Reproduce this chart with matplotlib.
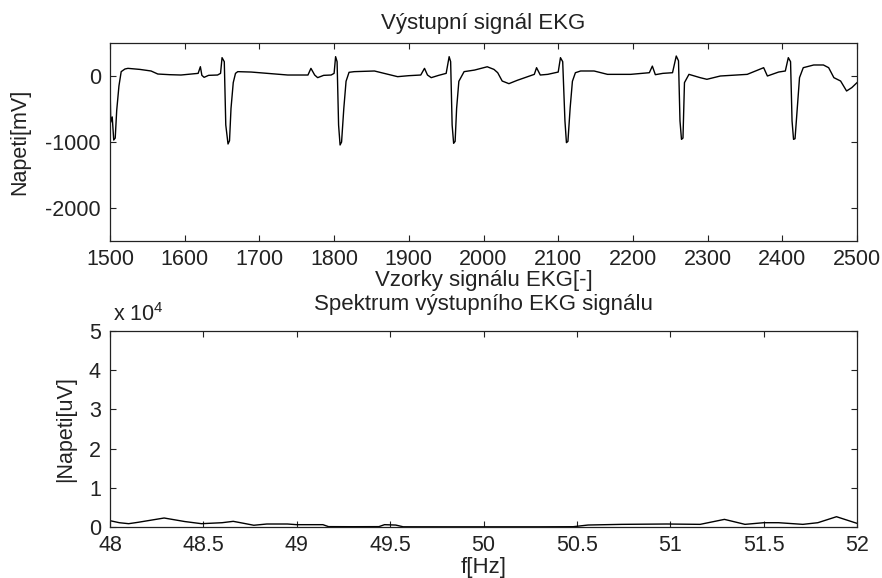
import matplotlib
matplotlib.use("Agg")
import matplotlib.pyplot as plt
from matplotlib.ticker import FuncFormatter


# EKG trace (sample index, mV)
ekg_samples = [
    1500, 1501, 1503, 1505, 1507, 1509, 1512, 1515, 1520, 1524, 1540, 1555,
    1564, 1580, 1595, 1618, 1621, 1623, 1626, 1632, 1644, 1648, 1650, 1653,
    1655, 1658, 1660, 1662, 1665, 1668, 1671, 1689, 1711, 1738, 1765, 1769,
    1774, 1778, 1786, 1796, 1800, 1802, 1804, 1806, 1808, 1810, 1813, 1816,
    1820, 1827, 1854, 1867, 1885, 1900, 1916, 1921, 1925, 1930, 1940, 1950,
    1954, 1956, 1958, 1960, 1962, 1964, 1967, 1974, 1988, 2005, 2014, 2019,
    2025, 2034, 2045, 2068, 2071, 2076, 2086, 2100, 2103, 2106, 2109, 2111,
    2113, 2116, 2119, 2123, 2130, 2148, 2166, 2197, 2222, 2226, 2230, 2240,
    2253, 2258, 2261, 2263, 2265, 2267, 2269, 2275, 2290, 2299, 2317, 2353,
    2375, 2380, 2395, 2404, 2408, 2411, 2413, 2415, 2417, 2420, 2423, 2428,
    2442, 2455, 2462, 2469, 2478, 2486, 2493, 2500,
]
ekg_mv = [
    -100, -700, -620, -970, -940, -520, -150, 66, 106, 116, 100, 76,
    30, 20, 15, 40, 141, 10, -20, 10, 15, 40, 278, 217,
    -742, -1030, -980, -490, -100, 40, 66, 60, 40, 15, 15, 116,
    15, -25, 10, 15, 40, 293, 217, -742, -1045, -1000, -490, -80,
    56, 66, 76, 40, -10, 5, 15, 116, 15, -25, 10, 40,
    293, 217, -742, -1020, -990, -490, -80, 66, 90, 140, 100, 50,
    -76, -116, -66, 25, 126, 15, 25, 60, 278, 217, -680, -1010,
    -990, -480, -80, 50, 76, 76, 25, 25, 50, 150, 20, 40,
    50, 303, 230, -680, -960, -940, -100, 25, -25, -50, 0, 25,
    126, 0, 60, 76, 278, 217, -680, -960, -950, -480, -25, 126,
    167, 167, 126, -25, -76, -227, -176, -100,
]

# spectrum magnitude around 50 Hz (Hz, uV)
spec_freq = [
    48.0, 48.05, 48.1, 48.15, 48.29, 48.4, 48.49, 48.6, 48.66, 48.71,
    48.77, 48.84, 48.95, 49.0, 49.14, 49.17, 49.3, 49.44, 49.47, 49.53,
    49.57, 49.8, 50.0, 50.3, 50.48, 50.56, 50.74, 50.98, 51.16, 51.29,
    51.4, 51.5, 51.58, 51.71, 51.79, 51.89, 52.0,
]
spec_uv = [
    1620, 1100, 850, 1200, 2300, 1400, 850, 1100, 1450, 1000,
    450, 770, 770, 600, 600, 100, 80, 100, 600, 500,
    60, 50, 50, 50, 80, 510, 680, 770, 680, 1950,
    680, 1100, 1100, 680, 1100, 2630, 935,
]

top_xticks = list(range(1500, 2501, 100))
top_yticks = [-2000, -1000, 0]
bot_xticks = [48, 48.5, 49, 49.5, 50, 50.5, 51, 51.5, 52]
bot_yticks = [0, 10000, 20000, 30000, 40000, 50000]

plt.rcParams['font.family'] = ['Liberation Sans', 'DejaVu Sans']
plt.rcParams['font.size'] = 15.5
plt.rcParams['axes.unicode_minus'] = False
plt.rcParams['mathtext.fontset'] = 'custom'
plt.rcParams['mathtext.rm'] = 'Liberation Sans'
plt.rcParams['mathtext.it'] = 'Liberation Sans'

ink = '#222222'

fig = plt.figure(figsize=(8.82, 5.78), dpi=100)
ax1 = fig.add_axes([0.1247, 0.583, 0.847, 0.3426])
ax2 = fig.add_axes([0.1247, 0.0882, 0.847, 0.339])

for ax in (ax1, ax2):
    ax.tick_params(direction='in', length=4.5, width=0.8, top=True, right=True,
                   colors=ink, labelcolor=ink)
    ax.tick_params(axis='x', pad=5.5)
    ax.tick_params(axis='y', pad=6.5)
    for sp in ax.spines.values():
        sp.set_linewidth(0.9)
        sp.set_color(ink)

ax1.plot(ekg_samples, ekg_mv, color='black', lw=1.0)
ax1.set_xlim(1500, 2500)
ax1.set_ylim(-2500, 500)
ax1.set_xticks(top_xticks)
ax1.set_yticks(top_yticks)
ax1.set_title('Výstupní signál EKG', fontsize=16, pad=10, color=ink)
ax1.set_xlabel('Vzorky signálu EKG[-]', fontsize=16, labelpad=0, color=ink)
ax1.set_ylabel('Napeti[mV]', fontsize=15.5, labelpad=11, color=ink)

ax2.plot(spec_freq, spec_uv, color='black', lw=1.0)
ax2.set_xlim(48, 52)
ax2.set_ylim(0, 50000)
ax2.set_xticks(bot_xticks)
ax2.set_yticks(bot_yticks)
ax2.xaxis.set_major_formatter(FuncFormatter(lambda v, p: '%g' % v))
ax2.yaxis.set_major_formatter(FuncFormatter(lambda v, p: '%g' % (v / 1e4)))
ax2.set_title('Spektrum výstupního EKG signálu', fontsize=16, pad=15, color=ink)
ax2.set_xlabel('f[Hz]', fontsize=16, labelpad=1, color=ink)
ax2.set_ylabel('|Napeti[uV]', fontsize=15.5, labelpad=9, color=ink)
ax2.annotate(r'x 10$^{4}$', xy=(0, 1), xycoords='axes fraction',
             xytext=(2, 7), textcoords='offset points', ha='left', va='baseline',
             color=ink)

fig.savefig('out.png', dpi=100, facecolor='white')
